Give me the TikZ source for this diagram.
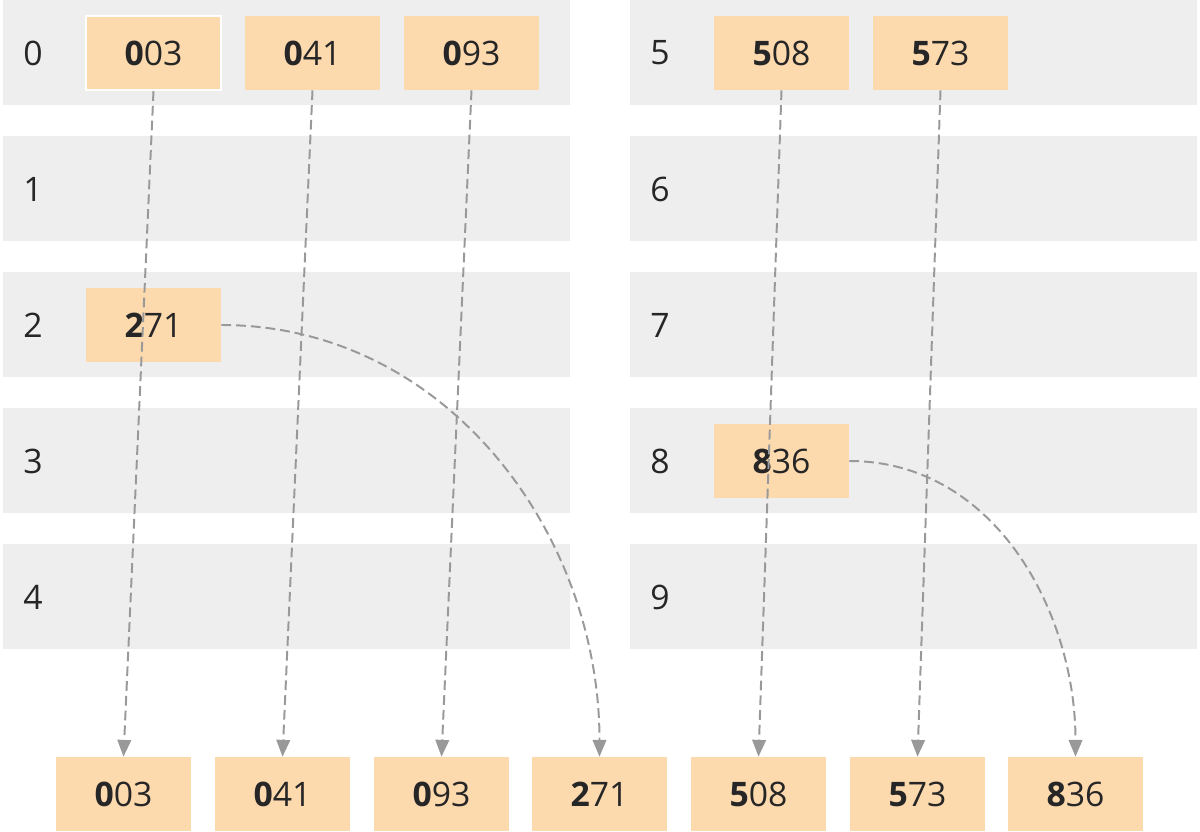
\documentclass[tikz,border=0pt]{standalone}
\usepackage{fontspec}
\setmainfont{Open Sans}
\usetikzlibrary{arrows.meta}
\definecolor{rowgray}{HTML}{EEEEEE}
\definecolor{peach}{HTML}{FDD9AE}
\definecolor{linkgray}{HTML}{999999}
\begin{document}
\begin{tikzpicture}[x=0.025cm, y=-0.025cm,
    every node/.style = {font=\fontsize{24}{28}\selectfont, text=black!85},
    key/.style = {rectangle, fill=peach,
        minimum width = 3.375cm, minimum height = 1.85cm, inner sep=0pt},
    link/.style = {draw=linkgray, line width=1.4pt,
        dash pattern=on 7pt off 3.5pt,
        -{Triangle[length=0.42cm,width=0.34cm]}}]

\useasboundingbox (0,0) rectangle (1200,832);

% Buckets
\foreach \i in {0,...,4} {
    \fill[rowgray] (3,{\i*136}) rectangle (570,{\i*136+105});
    \fill[rowgray] (630,{\i*136}) rectangle (1197,{\i*136+105});
    \node (l\i) at (33,{\i*136+53}) {\i};
    \pgfmathtruncatemacro{\j}{\i+5}
    \node (l\j) at (660,{\i*136+53}) {\j};
}

% Keys in the buckets
\node[key,draw=white,line width=1.5pt] (k003) at (153.5,53) {\textbf{0}03};
\node[key] (k041) at (312.5,53) {\textbf{0}41};
\node[key] (k093) at (471.5,53) {\textbf{0}93};
\node[key] (k271) at (153.5,325) {\textbf{2}71};
\node[key] (k508) at (781.5,53) {\textbf{5}08};
\node[key] (k573) at (940.5,53) {\textbf{5}73};
\node[key] (k836) at (781.5,461) {\textbf{8}36};

% Output
\node[key] (o003) at (123.5,794) {\textbf{0}03};
\node[key] (o041) at (282.5,794) {\textbf{0}41};
\node[key] (o093) at (441.5,794) {\textbf{0}93};
\node[key] (o271) at (599.5,794) {\textbf{2}71};
\node[key] (o508) at (758.5,794) {\textbf{5}08};
\node[key] (o573) at (917.5,794) {\textbf{5}73};
\node[key] (o836) at (1075.5,794) {\textbf{8}36};

% Links
\foreach \k in {003,041,093,508,573}
    \draw[link] (k\k.south) -- (o\k.north);
\draw[link] (k271.east) to[out=0,in=90] (o271.north);
\draw[link] (k836.east) to[out=0,in=90] (o836.north);
\end{tikzpicture}
\end{document}
